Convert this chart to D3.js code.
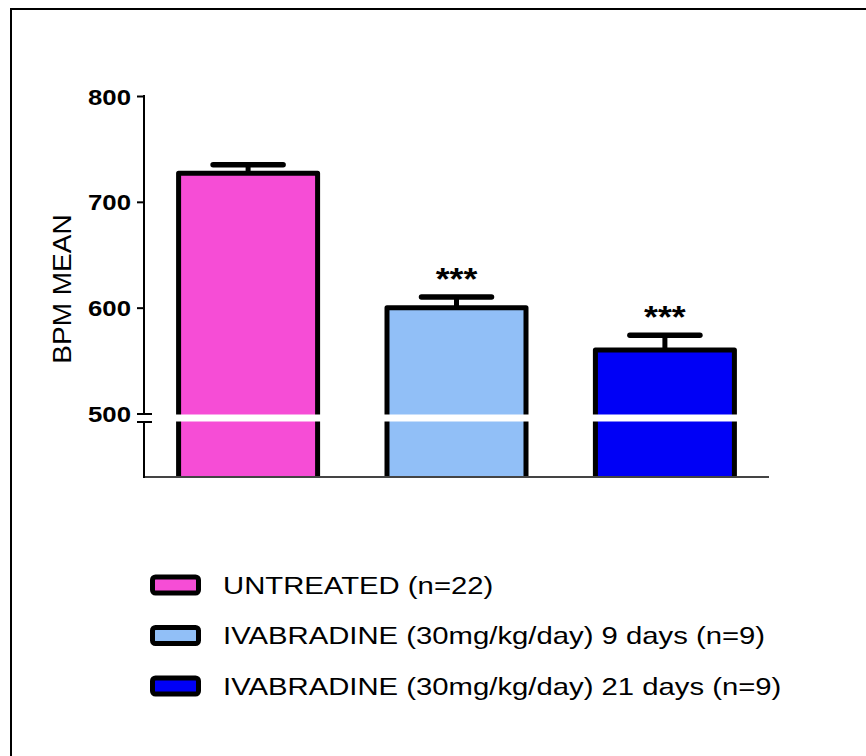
<!DOCTYPE html>
<html>
<head>
<meta charset="utf-8">
<script src="https://cdn.jsdelivr.net/npm/d3@7"></script>
<style>
  html, body { margin: 0; padding: 0; background: #fff; }
  svg text { font-family: "Liberation Sans", Arial, Helvetica, sans-serif; }
</style>
</head>
<body>
<svg id="chart" width="866" height="756"></svg>
<script>
// ---- data ----
const categories = ["UNTREATED (n=22)", "IVABRADINE (30mg/kg/day) 9 days (n=9)", "IVABRADINE (30mg/kg/day) 21 days (n=9)"];
const means = [727, 600, 560];
const errors = [8, 10, 14];
const significance = ["", "***", "***"];
const colors = ["#f64dd6", "#91bff7", "#0000f6"];
const upperTicks = [500, 600, 700, 800];
const yLabel = "BPM MEAN";

// ---- layout ----
const svg = d3.select("#chart");
const axisX = 144, axisBottom = 477, axisRight = 769;
const breakTop = 413.5, breakBottom = 422;
const sx = 1.15; // horizontal text stretch

// outer frame (open at right/bottom)
svg.append("rect").attr("x", 11).attr("y", 9).attr("width", 1000).attr("height", 1000)
  .attr("fill", "none").attr("stroke", "#000").attr("stroke-width", 2);

const x = d3.scaleBand().domain(categories).range([axisX, axisRight])
  .paddingInner(0.333).paddingOuter(0.166);
const yUp = d3.scaleLinear().domain([500, 800]).range([breakTop, 96]);
const yLow = d3.scaleLinear().domain([0, 500]).range([axisBottom, breakBottom]);
const yVal = v => v >= 500 ? yUp(v) : yLow(v);

// bars (no bottom stroke)
const bars = svg.append("g");
categories.forEach((c, i) => {
  const x0 = x(c), x1 = x(c) + x.bandwidth(), yt = yVal(means[i]);
  bars.append("rect").attr("x", x0).attr("y", yt).attr("width", x1 - x0).attr("height", axisBottom - yt)
    .attr("fill", colors[i]);
  bars.append("path")
    .attr("d", `M${x0},${axisBottom}V${yt}H${x1}V${axisBottom}`)
    .attr("fill", "none").attr("stroke", "#000").attr("stroke-width", 5).attr("stroke-linejoin", "round");
  // error bar
  const cx = x0 + x.bandwidth() / 2, ye = yVal(means[i] + errors[i]);
  bars.append("line").attr("x1", cx).attr("x2", cx).attr("y1", yt).attr("y2", ye)
    .attr("stroke", "#000").attr("stroke-width", 5);
  bars.append("line").attr("x1", cx - 35).attr("x2", cx + 35).attr("y1", ye).attr("y2", ye)
    .attr("stroke", "#000").attr("stroke-width", 5.5).attr("stroke-linecap", "round");
  if (significance[i]) {
    svg.append("text").attr("transform", `translate(${cx},${ye - 7}) scale(${sx},1)`)
      .attr("text-anchor", "middle").attr("font-size", 31).attr("font-weight", "bold")
      .text(significance[i]);
  }
});

// axis break band across bars
svg.append("rect").attr("x", axisX + 10).attr("y", breakTop + 1).attr("width", axisRight - axisX)
  .attr("height", breakBottom - breakTop - 1.5).attr("fill", "#fff");

// x axis line
svg.append("line").attr("x1", axisX).attr("x2", axisRight).attr("y1", axisBottom).attr("y2", axisBottom)
  .attr("stroke", "#444").attr("stroke-width", 2);

// y axis upper segment
const gy = svg.append("g").attr("transform", `translate(${axisX},0)`)
  .call(d3.axisLeft(yUp).tickValues(upperTicks).tickSize(7).tickFormat(d3.format("d")));
gy.select(".domain").remove();
gy.append("line").attr("x1", 0).attr("x2", 0).attr("y1", yUp(800) - 1).attr("y2", breakTop)
  .attr("stroke", "#000").attr("stroke-width", 2);
gy.selectAll(".tick line").attr("stroke", "#000").attr("stroke-width", 2)
  .attr("x2", d => d === 500 ? 8 : 0).attr("x1", -7);
gy.selectAll(".tick text").attr("x", 0).attr("dy", null)
  .attr("transform", `translate(-13,8) scale(1.12,1)`)
  .attr("font-size", 23).attr("font-weight", "bold").attr("fill", "#000")
  .attr("font-family", "'Liberation Sans', Arial, sans-serif");

// y axis lower segment
svg.append("line").attr("x1", axisX).attr("x2", axisX).attr("y1", breakBottom).attr("y2", axisBottom + 1)
  .attr("stroke", "#000").attr("stroke-width", 2);
svg.append("line").attr("x1", axisX - 7).attr("x2", axisX + 8).attr("y1", breakBottom).attr("y2", breakBottom)
  .attr("stroke", "#000").attr("stroke-width", 2);

// y label
svg.append("text").attr("transform", `translate(71,289) scale(0.92,1) rotate(-90)`)
  .attr("text-anchor", "middle").attr("font-size", 28).text(yLabel);

// legend
const legendY = d3.scalePoint().domain(categories).range([585, 686]);
const lg = svg.append("g");
categories.forEach((c, i) => {
  const cy = legendY(c);
  lg.append("rect").attr("x", 152.5).attr("y", cy - 8).attr("width", 46).attr("height", 16)
    .attr("rx", 3).attr("fill", colors[i]).attr("stroke", "#000").attr("stroke-width", 5);
  lg.append("text").attr("transform", `translate(223,${cy + 8.5}) scale(1.22,1)`)
    .attr("font-size", 24).text(c);
});
</script>
</body>
</html>
